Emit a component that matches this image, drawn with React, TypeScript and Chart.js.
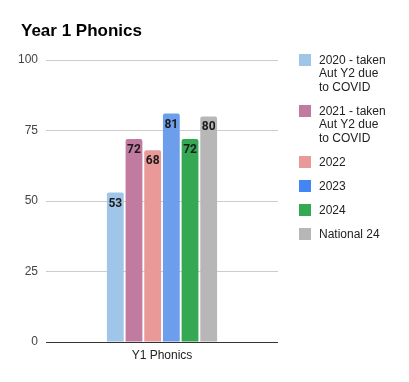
import React, { useEffect, useRef } from "react";
import { Chart, registerables } from "chart.js";

Chart.register(...registerables);

const categories = ["Y1 Phonics"];
const seriesNames = [
  ["2020 - taken", "Aut Y2 due", "to COVID"],
  ["2021 - taken", "Aut Y2 due", "to COVID"],
  ["2022"],
  ["2023"],
  ["2024"],
  ["National 24"],
];
const seriesValues = [53, 72, 68, 81, 72, 80];
const barColors = ["#9fc5e8", "#c27ba0", "#ea9999", "#6d9eeb", "#34a853", "#b7b7b7"];
const legendColors = ["#9fc5e8", "#c27ba0", "#ea9999", "#4285f4", "#34a853", "#b7b7b7"];
const yTicks = [0, 25, 50, 75, 100];
const title = "Year 1 Phonics";

const sansFont = "'Liberation Sans', Arial, sans-serif";

const overlayPlugin = {
  id: "overlay",
  afterDatasetsDraw(chart: any) {
    const ctx = chart.ctx;
    const yScale = chart.scales.y;
    const area = chart.chartArea;
    ctx.save();
    // baseline
    const y0 = Math.round(yScale.getPixelForValue(0)) + 0.5;
    ctx.strokeStyle = "#333333";
    ctx.lineWidth = 1;
    ctx.beginPath();
    ctx.moveTo(area.left, y0);
    ctx.lineTo(area.right, y0);
    ctx.stroke();
    // data labels
    ctx.font = "bold 12px Roboto, sans-serif";
    ctx.fillStyle = "#1a1a1a";
    ctx.textAlign = "center";
    ctx.textBaseline = "middle";
    chart.data.datasets.forEach((ds: any, i: number) => {
      const meta = chart.getDatasetMeta(i);
      meta.data.forEach((el: any, j: number) => {
        ctx.fillText(String(ds.data[j]), el.x, el.y + 11);
      });
    });
    ctx.restore();
  },
  afterDraw(chart: any) {
    const ctx = chart.ctx;
    ctx.save();
    // title
    ctx.font = "bold 17px " + sansFont;
    ctx.fillStyle = "#000000";
    ctx.textAlign = "left";
    ctx.textBaseline = "alphabetic";
    ctx.fillText(title, 21, 36);
    // legend
    ctx.font = "12px " + sansFont;
    ctx.textBaseline = "middle";
    let y = 54;
    const lineH = 13.5;
    seriesNames.forEach((lines, i) => {
      ctx.fillStyle = legendColors[i];
      ctx.fillRect(299, y, 12, 12);
      ctx.fillStyle = "#222222";
      lines.forEach((t, k) => {
        ctx.fillText(t, 319, y + 6.5 + k * lineH);
      });
      y += 24 + (lines.length - 1) * lineH;
    });
    ctx.restore();
  },
};

export default function App() {
  const ref = useRef<HTMLCanvasElement>(null);
  useEffect(() => {
    if (!ref.current) return;
    const chart = new Chart(ref.current, {
      type: "bar",
      data: {
        labels: categories,
        datasets: seriesValues.map((v, i) => ({
          label: seriesNames[i].join(" "),
          data: [v],
          backgroundColor: barColors[i],
          borderRadius: { topLeft: 2, topRight: 2, bottomLeft: 0, bottomRight: 0 },
          borderSkipped: false,
          categoryPercentage: 0.483,
          barPercentage: 0.9,
        })),
      },
      options: {
        animation: false,
        responsive: false,
        maintainAspectRatio: false,
        layout: { padding: { top: 60, right: 131, bottom: 0, left: 0 } },
        plugins: {
          legend: { display: false },
          title: { display: false },
          tooltip: { enabled: false },
        },
        scales: {
          x: {
            grid: { display: false, drawTicks: false },
            border: { display: false },
            ticks: {
              color: "#222222",
              font: { family: sansFont, size: 12 },
              padding: 6,
            },
            afterFit(scale: any) {
              scale.height = 40;
            },
          },
          y: {
            min: 0,
            max: 100,
            afterBuildTicks(scale: any) {
              scale.ticks = yTicks.map((v) => ({ value: v }));
            },
            grid: { color: "#cccccc", drawTicks: false },
            border: { display: false },
            ticks: {
              color: "#444444",
              font: { family: sansFont, size: 12 },
              padding: 8,
            },
            afterFit(scale: any) {
              scale.width = 46;
            },
          },
        },
      },
      plugins: [overlayPlugin],
    });
    return () => chart.destroy();
  }, []);
  return (
    <div style={{ position: "absolute", left: 0, top: 0, width: 409, height: 382, background: "#fff" }}>
      <canvas ref={ref} width={409} height={382} style={{ display: "block" }} />
    </div>
  );
}
